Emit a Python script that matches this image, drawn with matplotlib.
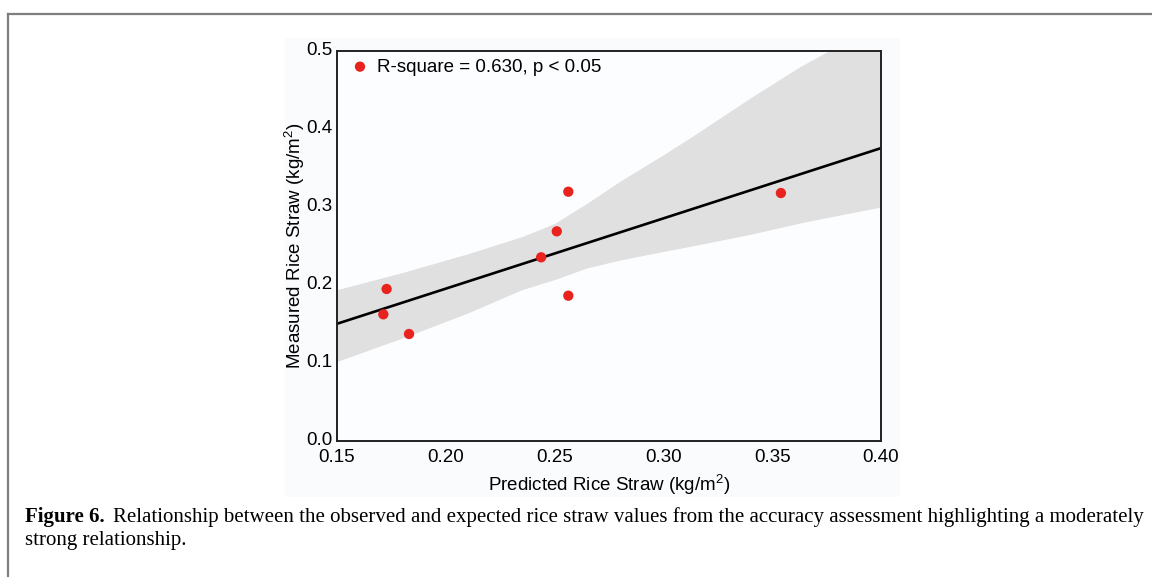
import matplotlib.pyplot as plt
from matplotlib.lines import Line2D
from matplotlib.patches import Rectangle
import matplotlib.ticker as ticker
import matplotlib.transforms as mtransforms
import numpy as np

# 予測値 / 実測値
predicted = [0.1728, 0.1713, 0.1831, 0.2438, 0.2510, 0.2563, 0.2563, 0.3540]
measured = [0.1949, 0.1624, 0.1372, 0.2355, 0.2688, 0.3196, 0.1863, 0.3179]

# 信頼区間
band_x = [0.15, 0.18, 0.21, 0.235, 0.25, 0.265, 0.28, 0.30, 0.3168, 0.34, 0.3628, 0.3752, 0.40]
band_hi = [0.194, 0.216, 0.240, 0.262, 0.279, 0.305, 0.333, 0.367, 0.397, 0.440, 0.480, 0.499, 0.537]
band_lo = [0.102, 0.132, 0.164, 0.194, 0.207, 0.222, 0.232, 0.243, 0.252, 0.265, 0.2795, 0.2865, 0.300]

x_ticks = [0.15, 0.20, 0.25, 0.30, 0.35, 0.40]
y_ticks = [0.0, 0.1, 0.2, 0.3, 0.4, 0.5]

legend_label = 'R-square = 0.630, p < 0.05'
x_label = 'Predicted Rice Straw (kg/m$^2$)'
y_label = 'Measured Rice Straw (kg/m$^2$)'
caption_bold = 'Figure 6.'
caption_line1 = ('Relationship between the observed and expected rice straw values '
                 'from the accuracy assessment highlighting a moderately')
caption_line2 = 'strong relationship.'

plt.rcParams['font.family'] = ['Liberation Sans', 'DejaVu Sans']
plt.rcParams['mathtext.fontset'] = 'custom'
plt.rcParams['mathtext.rm'] = 'Liberation Sans'

W, H = 1152, 577
fig = plt.figure(figsize=(W / 100, H / 100), dpi=100)

# 外枠
fig.add_artist(Line2D([8 / W, 8 / W], [0, 1 - 14 / H],
                      transform=fig.transFigure, color='#7f7f7f', linewidth=1.6))
fig.add_artist(Line2D([8 / W, 1], [1 - 14 / H, 1 - 14 / H],
                      transform=fig.transFigure, color='#7f7f7f', linewidth=1.6))

# 図の背景
fig.add_artist(Rectangle((285 / W, 1 - 497 / H), 615 / W, 459 / H,
                         transform=fig.transFigure, facecolor='#fafbfd',
                         edgecolor='none', zorder=0))

ax = fig.add_axes([337 / W, 1 - 441 / H, 544 / W, 390 / H])
ax.set_facecolor('#fcfdff')

# 信頼区間
ax.fill_between(band_x, band_lo, band_hi, color='#e0e0e0', linewidth=0, zorder=1)

# 回帰直線
slope, intercept = np.polyfit(predicted, measured, 1)
xs = np.array([0.15, 0.40])
ax.plot(xs, slope * xs + intercept, color='black', linewidth=1.9, zorder=2)

# 散布図
ax.scatter(predicted, measured, s=55, color='#e8231e', edgecolors='none',
           zorder=3, label=legend_label)

ax.set_xlim(0.15, 0.40)
ax.set_ylim(0.0, 0.5)
ax.set_xticks(x_ticks)
ax.set_yticks(y_ticks)
ax.xaxis.set_major_formatter(ticker.FormatStrFormatter('%.2f'))
ax.yaxis.set_major_formatter(ticker.FormatStrFormatter('%.1f'))
ax.tick_params(length=0, labelsize=13.5, colors='black')
ax.tick_params(axis='x', pad=6)
ax.tick_params(axis='y', pad=3)

# Y軸ラベルを少し上へ
offset = mtransforms.ScaledTranslation(0, 2.5 / 100, fig.dpi_scale_trans)
for lbl in ax.get_yticklabels():
    lbl.set_transform(lbl.get_transform() + offset)

for spine in ax.spines.values():
    spine.set_color('#222')
    spine.set_linewidth(1.4)

ax.set_xlabel(x_label, fontsize=13.5, labelpad=4)
ax.set_ylabel(y_label, fontsize=13.5, labelpad=0)

leg = ax.legend(loc='center left', bbox_to_anchor=(0.025, 0.959),
                frameon=False, fontsize=13.5, borderpad=0, borderaxespad=0,
                handlelength=1.0, handletextpad=0.4)

# キャプション
fig.canvas.draw()
renderer = fig.canvas.get_renderer()
cap_y1 = 1 - 517 / H
cap_y2 = 1 - 541 / H
t_bold = fig.text(25 / W, cap_y1, caption_bold, fontsize=15,
                  family='Liberation Serif', weight='bold', va='center')
bb = t_bold.get_window_extent(renderer)
fig.text((bb.x1 + 8) / W, cap_y1, caption_line1, fontsize=15,
         family='Liberation Serif', va='center')
fig.text(25 / W, cap_y2, caption_line2, fontsize=15,
         family='Liberation Serif', va='center')

fig.savefig('out.png', dpi=100)
